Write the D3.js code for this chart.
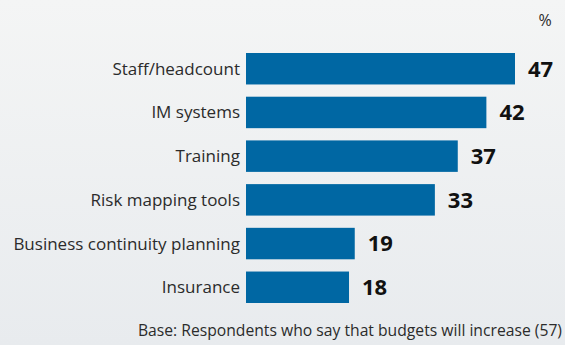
<!DOCTYPE html>
<html>
<head>
<meta charset="utf-8">
<script src="https://cdn.jsdelivr.net/npm/d3@7"></script>
<style>
  html, body { margin: 0; padding: 0; }
  body { width: 565px; height: 345px; overflow: hidden; }
</style>
</head>
<body>
<div id="chart"></div>
<script>
const categories = ["Staff/headcount", "IM systems", "Training", "Risk mapping tools", "Business continuity planning", "Insurance"];
const values = [47, 42, 37, 33, 19, 18];
const unitLabel = "%";
const baseNote = "Base: Respondents who say that budgets will increase (57)";

const width = 565, height = 345;
const svg = d3.select("#chart").append("svg")
  .attr("width", width)
  .attr("height", height);

// soft grey background
const grad = svg.append("defs").append("linearGradient")
  .attr("id", "bg").attr("x1", 0).attr("y1", 0).attr("x2", 0).attr("y2", 1);
grad.append("stop").attr("offset", "0%").attr("stop-color", "#f4f5f5");
grad.append("stop").attr("offset", "100%").attr("stop-color", "#e8ebee");
svg.append("rect").attr("width", width).attr("height", height).attr("fill", "url(#bg)");

const x = d3.scaleLinear().domain([0, 47]).range([246, 515]);
const y = d3.scaleBand().domain(categories).range([53, 303]).paddingInner(0.28).paddingOuter(0);

const data = categories.map((c, i) => ({ category: c, value: values[i] }));

svg.selectAll("rect.bar")
  .data(data)
  .enter()
  .append("rect")
  .attr("class", "bar")
  .attr("x", x(0))
  .attr("y", (d) => y(d.category))
  .attr("width", (d) => x(d.value) - x(0))
  .attr("height", y.bandwidth())
  .attr("fill", "#0067a3");

svg.selectAll("text.cat")
  .data(data)
  .enter()
  .append("text")
  .attr("class", "cat")
  .attr("x", 240)
  .attr("y", (d) => y(d.category) + y.bandwidth() / 2)
  .attr("dy", "0.35em")
  .attr("text-anchor", "end")
  .style("font-family", "'Open Sans', sans-serif")
  .style("font-size", "17px")
  .attr("fill", "#2b2b2b")
  .text((d) => d.category);

svg.selectAll("text.val")
  .data(data)
  .enter()
  .append("text")
  .attr("class", "val")
  .attr("x", (d) => x(d.value) + 13)
  .attr("y", (d) => y(d.category) + y.bandwidth() / 2)
  .attr("dy", "0.36em")
  .style("font-family", "'Open Sans', sans-serif")
  .style("font-size", "22px")
  .style("font-weight", "bold")
  .attr("fill", "#111")
  .text((d) => d.value);

svg.append("text")
  .attr("x", 545)
  .attr("y", 26)
  .attr("text-anchor", "middle")
  .style("font-family", "'Open Sans', sans-serif")
  .style("font-size", "16px")
  .attr("fill", "#2b2b2b")
  .text(unitLabel);

svg.append("text")
  .attr("x", 562)
  .attr("y", 336)
  .attr("text-anchor", "end")
  .style("font-family", "'Open Sans', sans-serif")
  .style("font-size", "15.7px")
  .attr("fill", "#2b2b2b")
  .text(baseNote);
</script>
</body>
</html>
